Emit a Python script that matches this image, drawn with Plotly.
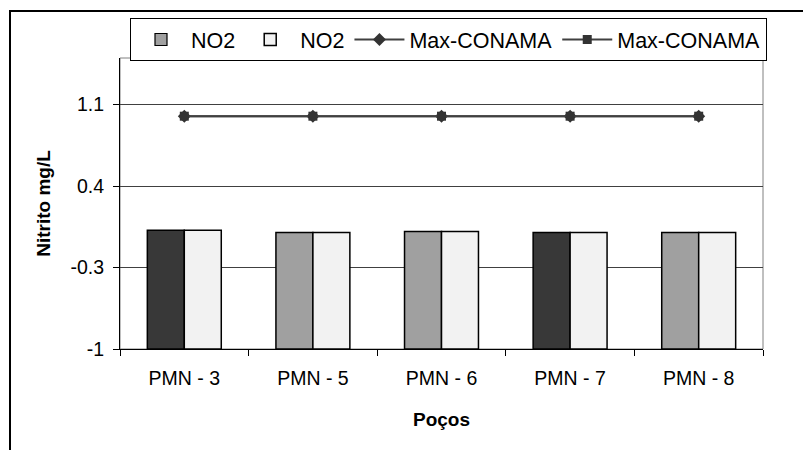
import plotly.graph_objects as go

categories = ["PMN - 3", "PMN - 5", "PMN - 6", "PMN - 7", "PMN - 8"]
no2_a = [0.02, 0.0, 0.01, 0.0, 0.0]
no2_b = [0.02, 0.0, 0.01, 0.0, 0.0]
no2_a_colors = ["#383838", "#A0A0A0", "#A0A0A0", "#383838", "#A0A0A0"]
max_conama_1 = [1.0, 1.0, 1.0, 1.0, 1.0]
max_conama_2 = [1.0, 1.0, 1.0, 1.0, 1.0]
y_tickvals = [-1, -0.3, 0.4, 1.1]
y_ticktext = ["-1", "-0.3", "0.4", "1.1"]
axis_min = -1.0
axis_max = 1.5

FONT = "Liberation Sans, Arial, sans-serif"

fig = go.Figure()

# legend-only entry for first NO2 series (gray swatch as in reference)
fig.add_trace(go.Bar(
    x=[categories[0]], y=[None], name="NO2", offsetgroup="a",
    marker=dict(color="#A0A0A0", line=dict(color="#000000", width=1.2)),
))
fig.add_trace(go.Bar(
    x=categories, y=[v - axis_min for v in no2_a], base=axis_min,
    name="NO2", offsetgroup="a", showlegend=False,
    marker=dict(color=no2_a_colors, line=dict(color="#000000", width=1.5)),
))
fig.add_trace(go.Bar(
    x=categories, y=[v - axis_min for v in no2_b], base=axis_min,
    name="NO2", offsetgroup="b",
    marker=dict(color="#F2F2F2", line=dict(color="#000000", width=1.5)),
))
fig.add_trace(go.Scatter(
    x=categories, y=max_conama_1, name="Max-CONAMA", mode="lines+markers",
    line=dict(color="#404040", width=2),
    marker=dict(symbol="diamond", size=10, color="#333333"),
))
fig.add_trace(go.Scatter(
    x=categories, y=max_conama_2, name="Max-CONAMA", mode="lines+markers",
    line=dict(color="#404040", width=2),
    marker=dict(symbol="square", size=9, color="#333333"),
))

W, H = 803, 450
L, R, T, B = 120, 40, 58, 101
pw, ph = W - L - R, H - T - B

def px_x(p):
    return (p - L) / pw

def px_y(p):
    return 1 - (p - T) / ph

fig.update_layout(
    width=W, height=H,
    margin=dict(l=L, r=R, t=T, b=B, pad=0),
    paper_bgcolor="white", plot_bgcolor="white",
    font=dict(family=FONT, size=19, color="#000000"),
    barmode="group", bargap=0.425, bargroupgap=0,
    showlegend=True,
    legend=dict(
        orientation="h", x=px_x(130), y=px_y(18), xanchor="left", yanchor="top",
        bgcolor="white", bordercolor="#000000", borderwidth=1,
        font=dict(family=FONT, size=21.5, color="#000000"),
        itemwidth=50, traceorder="normal",
    ),
    xaxis=dict(
        type="category", showline=True, linecolor="#000000", linewidth=1,
        ticks="outside", ticklen=6, tickcolor="#000000", tickson="boundaries",
        showgrid=False, tickfont=dict(size=19.5), ticklabelstandoff=12,
        title=dict(text="<b>Poços</b>", font=dict(size=19), standoff=24),
    ),
    yaxis=dict(
        range=[axis_min, axis_max], tickvals=y_tickvals, ticktext=y_ticktext,
        showline=True, linecolor="#000000", linewidth=1,
        ticks="outside", ticklen=6, tickcolor="#000000",
        showgrid=True, gridcolor="#404040", gridwidth=1, zeroline=False,
        tickfont=dict(size=19.5), ticklabelstandoff=5,
        title=dict(text="<b>Nitrito mg/L</b>", font=dict(size=19), standoff=14),
    ),
    shapes=[
        dict(type="rect", xref="paper", yref="paper", x0=0, x1=1, y0=0, y1=1,
             line=dict(color="#808080", width=1), layer="below"),
        dict(type="rect", xref="paper", yref="paper",
             x0=px_x(10), x1=px_x(W + 20), y0=px_y(H + 20), y1=px_y(11),
             line=dict(color="#000000", width=2), layer="below"),
    ],
)

fig.write_html("out.html")
